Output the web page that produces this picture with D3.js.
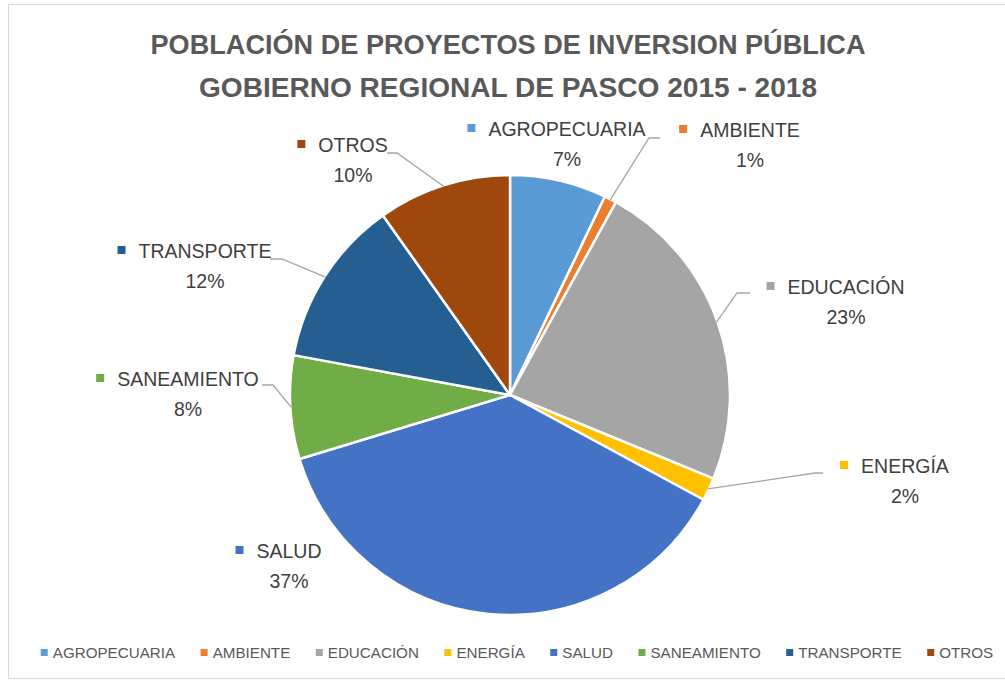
<!DOCTYPE html>
<html><head><meta charset="utf-8">
<script src="https://cdn.jsdelivr.net/npm/d3@7"></script>
<style>body{margin:0;background:#fff}svg{display:block}</style>
</head><body>
<script>
const categories = ["AGROPECUARIA","AMBIENTE","EDUCACIÓN","ENERGÍA","SALUD","SANEAMIENTO","TRANSPORTE","OTROS"];
const values = [7.1, 0.9, 23.2, 1.7, 37.4, 7.6, 12.3, 9.8];
const colors = ["#5B9BD5","#ED7D31","#A5A5A5","#FFC000","#4472C4","#70AD47","#255E91","#9E480E"];
const titleLines = ["POBLACIÓN DE PROYECTOS DE INVERSION PÚBLICA","GOBIERNO REGIONAL DE PASCO 2015 - 2018"];

// layout: name text center x, baseline y of name line, leader elbow points
const labelLayout = [
  {x:567, y:136, leader:null},
  {x:750, y:137, leader:[[660,138],[649,138]]},
  {x:846, y:294, leader:[[750,293],[737,293]]},
  {x:905, y:473, leader:[[823,473],[815,473]]},
  {x:289, y:558, leader:null},
  {x:188, y:386, leader:[[262,385],[273,385]]},
  {x:205, y:258, leader:[[270,259],[282,259]]},
  {x:353, y:152, leader:[[387,153],[397,153]]}
];

const W=1005,H=681, cx=510, cy=395, R=220;
const svg=d3.select("body").append("svg").attr("width",W).attr("height",H);
svg.append("rect").attr("x",8.5).attr("y",4.5).attr("width",1005).attr("height",674)
  .attr("fill","#fff").attr("stroke","#d9d9d9").attr("stroke-width",1);

const font="'Liberation Sans', Arial, sans-serif";
const tw=[715,618];
titleLines.forEach((t,i)=>{
  svg.append("text").attr("x",508).attr("y",54+i*43).attr("text-anchor","middle")
    .attr("font-family",font).attr("font-weight","bold").attr("font-size",27.5)
    .attr("fill","#595959").attr("textLength",tw[i]).attr("lengthAdjust","spacingAndGlyphs").text(t);
});

const data=categories.map((c,i)=>({name:c,value:values[i],color:colors[i]}));
const total=d3.sum(values);
const pie=d3.pie().value(d=>d.value).sort(null);
const arcs=pie(data);
const arc=d3.arc().innerRadius(0).outerRadius(R);
const g=svg.append("g").attr("transform",`translate(${cx},${cy})`);
g.selectAll("path").data(arcs).enter().append("path")
  .attr("d",arc).attr("fill",d=>d.data.color).attr("stroke","#fff").attr("stroke-width",2.5).attr("stroke-linejoin","round");

// leader lines
arcs.forEach((a,i)=>{
  const L=labelLayout[i]; if(!L.leader) return;
  const mid=(a.startAngle+a.endAngle)/2;
  const ex=cx+Math.sin(mid)*(R-1), ey=cy-Math.cos(mid)*(R-1);
  const pts=[...L.leader,[ex,ey]];
  svg.append("path").attr("d",d3.line()(pts)).attr("fill","none").attr("stroke","#a6a6a6").attr("stroke-width",1.3);
});

// data labels
const lfs=19.5;
arcs.forEach((a,i)=>{
  const L=labelLayout[i];
  const grp=svg.append("g");
  const t=grp.append("text").attr("font-family",font).attr("font-size",lfs).attr("fill","#404040")
    .attr("text-anchor","middle").attr("x",L.x).attr("y",L.y).text(a.data.name);
  const w=t.node().getComputedTextLength();
  const markerW=8, gap=13;
  grp.append("rect").attr("x",L.x-w/2-gap-markerW).attr("y",L.y-12).attr("width",markerW).attr("height",markerW).attr("fill",a.data.color);
  grp.append("text").attr("font-family",font).attr("font-size",lfs).attr("fill","#404040")
    .attr("text-anchor","middle").attr("x",L.x).attr("y",L.y+30)
    .text(Math.round(a.data.value/total*100)+"%");
});

// legend
const lg=svg.append("g");
const fs=15.2, mk=7, mgap=5, igap=25.5;
let items=[]; let x=0;
data.forEach(d=>{
  const t=lg.append("text").attr("font-family",font).attr("font-size",fs).attr("fill","#595959").attr("y",658).text(d.name);
  const w=t.node().getComputedTextLength();
  items.push({t,w,d,x}); x+=mk+mgap+w+igap;
});
const totalW=x-igap; const start=517-totalW/2;
items.forEach(it=>{
  const x0=start+it.x;
  lg.append("rect").attr("x",x0).attr("y",649).attr("width",mk).attr("height",mk).attr("fill",it.d.color);
  it.t.attr("x",x0+mk+mgap);
});
</script>
</body></html>
